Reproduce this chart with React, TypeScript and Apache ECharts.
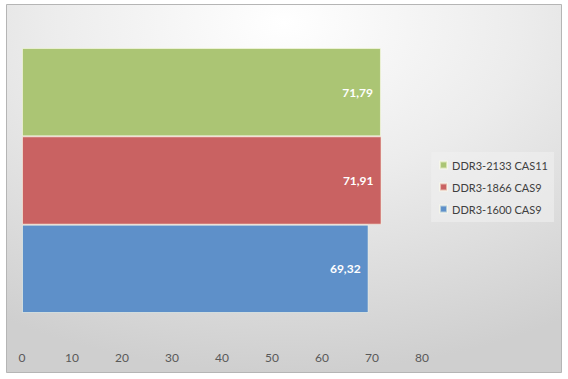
import React, { useEffect, useRef } from "react";
import * as echarts from "echarts";

const categories = ["Test"];
const seriesNames = ["DDR3-2133 CAS11", "DDR3-1866 CAS9", "DDR3-1600 CAS9"];
const seriesValues = [71.79, 71.91, 69.32];
const seriesColors = ["#ABC574", "#C96262", "#5E90C9"];
const xTicks = { min: 0, max: 80, interval: 10 };

export default function App() {
  const ref = useRef<HTMLDivElement>(null);
  useEffect(() => {
    const chart = echarts.init(ref.current!, null, { renderer: "svg" });
    const font = "Lato, Open Sans, sans-serif";
    chart.setOption({
      animation: false,
      graphic: [
        {
          type: "rect",
          z: -10,
          shape: { x: 6.5, y: 4.5, width: 555, height: 368 },
          style: {
            fill: new echarts.graphic.RadialGradient(0.5, 0.05, 0.95, [
              { offset: 0, color: "#ffffff" },
              { offset: 0.45, color: "#ececec" },
              { offset: 1, color: "#cfcfcf" },
            ]),
            stroke: "#b5b5b5",
            lineWidth: 1,
          },
        },
      ],
      grid: { left: 22, right: 146, top: 48, height: 265, containLabel: false },
      xAxis: {
        type: "value",
        min: xTicks.min,
        max: xTicks.max,
        interval: xTicks.interval,
        splitLine: { show: false },
        axisLine: { show: false },
        axisTick: { show: false },
        axisLabel: { color: "#595959", fontSize: 12, fontFamily: font, margin: 38 },
      },
      yAxis: {
        type: "category",
        data: categories,
        axisLine: { show: false },
        axisTick: { show: false },
        axisLabel: { show: false },
      },
      legend: {
        orient: "vertical",
        right: 14,
        top: 152,
        data: seriesNames,
        itemWidth: 7,
        itemHeight: 7,
        itemGap: 8,
        icon: "rect",
        padding: [6, 6, 6, 8],
        backgroundColor: "rgba(240,240,240,0.6)",
        textStyle: { color: "#404040", fontSize: 11, fontFamily: font, lineHeight: 14 },
      },
      series: seriesNames.map((name, i) => ({
        name,
        type: "bar",
        data: [seriesValues[i]],
        barGap: "0%",
        barCategoryGap: "0%",
        itemStyle: {
          color: seriesColors[i],
          borderColor: "rgba(255,255,235,0.55)",
          borderWidth: 1,
        },
        label: {
          show: true,
          position: "insideRight",
          distance: 8,
          color: "#ffffff",
          fontWeight: "bold",
          fontSize: 12,
          fontFamily: font,
          formatter: (p: any) => p.value.toFixed(2).replace(".", ","),
        },
      })),
    });
    return () => chart.dispose();
  }, []);
  return (
    <div style={{ position: "fixed", left: 0, top: 0, width: 568, height: 379, background: "#fff" }}>
      <div ref={ref} style={{ width: 568, height: 379 }} />
    </div>
  );
}
